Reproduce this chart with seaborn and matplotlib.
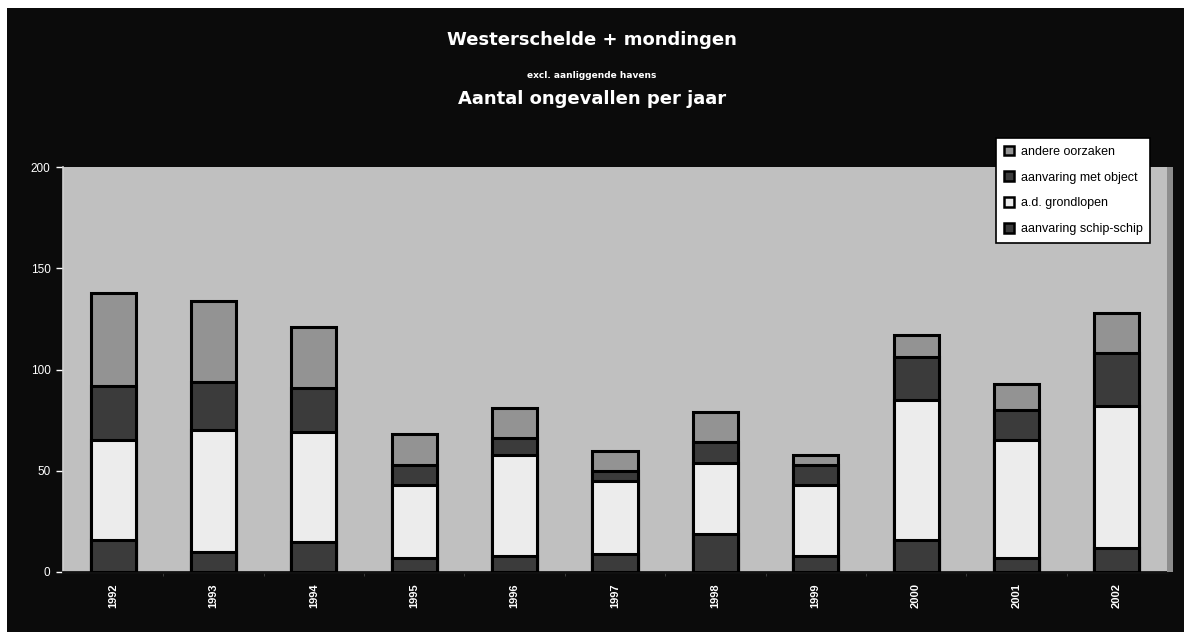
import matplotlib
matplotlib.use("Agg")
import matplotlib.pyplot as plt
import matplotlib.patches as mpatches
from matplotlib.ticker import FixedLocator
import numpy as np
import pandas as pd
import seaborn as sns

# ---- data ----
years = ["1992", "1993", "1994", "1995", "1996", "1997", "1998", "1999", "2000", "2001", "2002"]
schip_schip = [16, 10, 15, 7, 8, 9, 19, 8, 16, 7, 12]
grondlopen = [49, 60, 54, 36, 50, 36, 35, 35, 69, 58, 70]
met_object = [27, 24, 22, 10, 8, 5, 10, 10, 21, 15, 26]
andere = [46, 40, 30, 15, 15, 10, 15, 5, 11, 13, 20]

series_names = ["aanvaring schip-schip", "a.d. grondlopen", "aanvaring met object", "andere oorzaken"]
series_colors = ["#3b3b3b", "#ececec", "#3b3b3b", "#939393"]
yticks = [0, 50, 100, 150, 200]

title1 = "Westerschelde + mondingen"
title2 = "excl. aanliggende havens"
title3 = "Aantal ongevallen per jaar"

# ---- figure ----
fig = plt.figure(figsize=(11.84, 6.32), dpi=100, facecolor="white")
# black background panel (scan has a thin white margin at top and left)
fig.add_artist(mpatches.Rectangle((7 / 1184, 0), 1 - 7 / 1184, 1 - 8 / 632,
                                  transform=fig.transFigure, facecolor="#0b0b0b",
                                  edgecolor="none", zorder=0))

ax = fig.add_axes([63 / 1184, 60 / 632, (1167 - 63) / 1184, (572 - 167) / 632])
ax.set_facecolor("#c0c0c0")
# slight shadow strip at the right of the plot area
fig.add_artist(mpatches.Rectangle((1167 / 1184, 60 / 632), 6 / 1184, (572 - 167) / 632,
                                  transform=fig.transFigure, facecolor="#8e8e8e",
                                  edgecolor="none", zorder=1))

series = [schip_schip, grondlopen, met_object, andere]
cum = np.cumsum(np.array(series), axis=0)
df = pd.DataFrame({"jaar": years})
for i, name in enumerate(series_names):
    df[name] = cum[i]

# draw from the top of the stack downwards so lower segments overlay
for i in reversed(range(len(series_names))):
    sns.barplot(data=df, x="jaar", y=series_names[i], color=series_colors[i],
                saturation=1, width=0.45, edgecolor="black", linewidth=2.2,
                ax=ax, zorder=3)

ax.set_ylim(0, 200)
ax.set_xlim(-0.5, len(years) - 0.5)
ax.set_xlabel("")
ax.set_ylabel("")

ax.set_yticks(yticks)
ax.set_yticklabels([str(v) for v in yticks], color="white", fontsize=8.5,
                   fontfamily="Liberation Sans")
ax.tick_params(axis="y", colors="white", length=5, width=1, direction="out", pad=4)
for lab in ax.get_yticklabels():
    lab.set_color("white")

ax.set_xticks(range(len(years)))
ax.set_xticklabels(years, rotation=90, color="white", fontsize=8, fontweight="bold",
                   fontfamily="Liberation Sans", va="top", ha="center")
ax.tick_params(axis="x", length=0, pad=8)
ax.xaxis.set_minor_locator(FixedLocator(np.arange(0.5, len(years) - 0.5, 1)))
ax.tick_params(axis="x", which="minor", length=3, color="#444444", direction="out")

for side in ["top", "right"]:
    ax.spines[side].set_visible(False)
ax.spines["left"].set_color("#d0d0d0")
ax.spines["left"].set_linewidth(1.2)
ax.spines["bottom"].set_color("#111111")
ax.spines["bottom"].set_linewidth(2)
ax.grid(False)

# ---- legend ----
leg_order = [3, 2, 1, 0]
handles = [mpatches.Patch(facecolor=series_colors[i], edgecolor="black", linewidth=1.8,
                          label=series_names[i]) for i in leg_order]
leg = ax.legend(handles=handles, loc="upper left",
                bbox_to_anchor=(996 / 1184, 1 - 138 / 632), bbox_transform=fig.transFigure,
                fontsize=9, frameon=True, fancybox=False, framealpha=1,
                edgecolor="black", facecolor="white", handlelength=0.8, handleheight=0.8,
                handletextpad=0.6, labelspacing=1.1, borderpad=0.6, borderaxespad=0)
leg.get_frame().set_linewidth(1.2)
leg.set_zorder(10)
for t in leg.get_texts():
    t.set_fontfamily("Liberation Sans")

# ---- titles ----
fig.text(0.5, 1 - 40 / 632, title1, color="white", fontsize=13, fontweight="bold",
         ha="center", va="center", fontfamily="DejaVu Sans")
fig.text(0.5, 1 - 75 / 632, title2, color="white", fontsize=6.5, fontweight="bold",
         ha="center", va="center", fontfamily="DejaVu Sans")
fig.text(0.5, 1 - 99 / 632, title3, color="white", fontsize=13, fontweight="bold",
         ha="center", va="center", fontfamily="DejaVu Sans")

fig.savefig("out.png", dpi=100, facecolor=fig.get_facecolor())
